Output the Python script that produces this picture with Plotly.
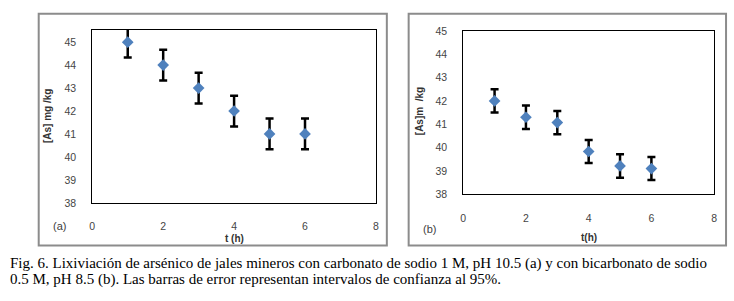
import plotly.graph_objects as go

t_hours = [1, 2, 3, 4, 5, 6]
as_a = [45.0, 44.0, 43.0, 42.0, 41.0, 41.0]
err_a = [0.67, 0.67, 0.67, 0.67, 0.67, 0.67]
as_b = [42.0, 41.3, 41.07, 39.83, 39.21, 39.1]
err_b = [0.5, 0.5, 0.5, 0.49, 0.5, 0.49]
x_ticks = [0, 2, 4, 6, 8]
y_ticks = [38, 39, 40, 41, 42, 43, 44, 45]
caption_lines = [
    "Fig. 6. Lixiviación de arsénico de jales mineros con carbonato de sodio 1 M, pH 10.5 (a) y con bicarbonato de sodio",
    "0.5 M, pH 8.5 (b). Las barras de error representan intervalos de confianza al 95%.",
]

W, H = 734, 301
def px(x): return x / W
def py(y): return 1 - y / H

marker = dict(symbol="diamond", size=9, color="#4F81BD")
ebar = dict(color="black", thickness=2.5, width=4)

fig = go.Figure()
fig.add_trace(go.Scatter(x=t_hours, y=as_a, mode="markers", marker=marker,
                         error_y=dict(type="data", array=err_a, visible=True, **ebar),
                         xaxis="x", yaxis="y", showlegend=False))
fig.add_trace(go.Scatter(x=t_hours, y=as_b, mode="markers", marker=marker,
                         error_y=dict(type="data", array=err_b, visible=True, **ebar),
                         xaxis="x2", yaxis="y2", showlegend=False))

tickfont = dict(family="Liberation Sans, Arial", size=10.5, color="#454545")
common_x = dict(range=[0, 8], tickvals=x_ticks, showgrid=False, zeroline=False,
                showline=True, linecolor="black", linewidth=1, mirror=True,
                ticks="", tickfont=tickfont, ticklabelstandoff=14)
common_y = dict(tickvals=y_ticks, showgrid=False, zeroline=False,
                showline=True, linecolor="black", linewidth=1, mirror=True,
                ticks="", tickfont=tickfont, ticklabelstandoff=13)

fig.update_layout(
    width=W, height=H, margin=dict(l=0, r=0, t=0, b=0),
    paper_bgcolor="white", plot_bgcolor="white",
    xaxis=dict(domain=[px(90), px(376)], anchor="y", **common_x),
    yaxis=dict(domain=[py(205), py(25)], range=[38, 45.53], anchor="x", **common_y),
    xaxis2=dict(domain=[px(464), px(717)], anchor="y2", **common_x),
    yaxis2=dict(domain=[py(196), py(26)], range=[38, 45], anchor="x2", **common_y),
)

shapes = []
for x0, x1 in [(36, 387), (409, 729)]:
    shapes.append(dict(type="rect", xref="paper", yref="paper",
                       x0=px(x0), x1=px(x1), y0=py(249.5), y1=py(8),
                       line=dict(color="#8c8c8c", width=2), fillcolor="rgba(0,0,0,0)"))
fig.update_layout(shapes=shapes)

titlefont = dict(family="Liberation Sans, Arial", size=10, color="#333333")
ann = []
ann.append(dict(x=px(233), y=py(242), text="<b>t (h)</b>", showarrow=False, font=titlefont,
                xref="paper", yref="paper", xanchor="center", yanchor="middle"))
ann.append(dict(x=px(590.5), y=py(241), text="<b>t(h)</b>", showarrow=False, font=titlefont,
                xref="paper", yref="paper", xanchor="center", yanchor="middle"))
ann.append(dict(x=px(45), y=py(115), text="<b>[As] mg /kg</b>", textangle=-90, showarrow=False,
                font=titlefont, xref="paper", yref="paper", xanchor="center", yanchor="middle"))
ann.append(dict(x=px(420), y=py(110), text="<b>[As]m  /kg</b>", textangle=-90, showarrow=False,
                font=titlefont, xref="paper", yref="paper", xanchor="center", yanchor="middle"))
labfont = dict(family="Liberation Sans, Arial", size=11, color="#404040")
ann.append(dict(x=px(57), y=py(229), text="(a)", showarrow=False, font=labfont,
                xref="paper", yref="paper", xanchor="center", yanchor="middle"))
ann.append(dict(x=px(430), y=py(232), text="(b)", showarrow=False, font=labfont,
                xref="paper", yref="paper", xanchor="center", yanchor="middle"))
capfont = dict(family="Liberation Serif, Times New Roman", size=15, color="black")
for i, line in enumerate(caption_lines):
    ann.append(dict(x=px(5), y=py(268 + 17 * i), text=line, showarrow=False, font=capfont,
                    xref="paper", yref="paper", xanchor="left", yanchor="middle"))
fig.update_layout(annotations=ann)

fig.write_html("out.html", config={"displayModeBar": False},
               post_script="document.body.style.margin='0';")
